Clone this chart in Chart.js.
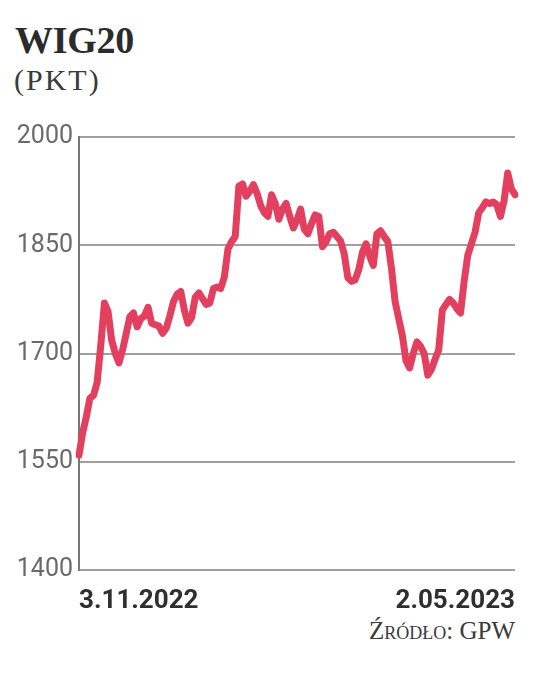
<!DOCTYPE html>
<html>
<head>
<meta charset="utf-8">
<script src="https://cdn.jsdelivr.net/npm/chart.js@4"></script>
<style>
  html, body { margin: 0; padding: 0; background: #fff; }
  body { width: 536px; height: 673px; position: relative; overflow: hidden; }
  #tytul { position: absolute; left: 15px; top: 18px; font: bold 38px "Liberation Serif", serif; color: #2b2b2b; letter-spacing: -0.3px; }
  #jednostka { position: absolute; left: 14px; top: 63px; font: 30px "Liberation Serif", serif; color: #3a3a3a; letter-spacing: 2px; }
  #zrodlo { position: absolute; right: 21px; top: 617px; font: 25px "Liberation Serif", serif; font-variant: small-caps; color: #3a3a3a; }
  #wrap { position: absolute; left: 0; top: 110px; width: 536px; height: 510px; }
</style>
</head>
<body>
<div id="tytul">WIG20</div>
<div id="jednostka">(PKT)</div>
<div id="zrodlo">Źródło: GPW</div>
<div id="wrap"><canvas id="wykres"></canvas></div>
<script>
// Notowania WIG20 (pkt), sesje od 3.11.2022 do 2.05.2023
const wartosci = [
    1559, 1590, 1612, 1638, 1642, 1660, 1712, 1770, 1758, 1718,
    1700, 1687, 1705, 1728, 1751, 1756, 1737, 1748, 1752, 1764,
    1742, 1740, 1738, 1728, 1735, 1752, 1772, 1782, 1786, 1760,
    1742, 1750, 1778, 1784, 1776, 1768, 1770, 1790, 1792, 1790,
    1806, 1845, 1855, 1862, 1932, 1935, 1918, 1925, 1934, 1922,
    1905, 1895, 1890, 1920, 1908, 1886, 1900, 1908, 1890, 1874,
    1885, 1900, 1872, 1866, 1880, 1892, 1890, 1848, 1855, 1866,
    1868, 1862, 1856, 1838, 1805, 1800, 1802, 1816, 1840, 1852,
    1835, 1822, 1866, 1870, 1862, 1855, 1818, 1772, 1748, 1725,
    1690, 1680, 1700, 1716, 1710, 1700, 1670, 1678, 1692, 1705,
    1760, 1768, 1775, 1770, 1762, 1756, 1800, 1836, 1852, 1868,
    1895, 1902, 1910, 1908, 1910, 1906, 1890, 1912, 1950, 1928,
    1920
];
const sesje = wartosci.map((_, i) => i);
const etykietyDat = ["3.11.2022", "2.05.2023"];
const skalaY = { min: 1400, max: 2000, krok: 150 };

const ctx = document.getElementById("wykres").getContext("2d");
new Chart(ctx, {
    type: "line",
    data: {
        labels: sesje,
        datasets: [{
            data: wartosci,
            borderColor: "#e2405e",
            borderWidth: 7,
            borderJoinStyle: "round",
            borderCapStyle: "round",
            pointRadius: 0,
            tension: 0
        }]
    },
    options: {
        responsive: true,
        maintainAspectRatio: false,
        animation: false,
        layout: { padding: { top: 27, right: 21, left: 0, bottom: 0 } },
        plugins: { legend: { display: false }, tooltip: { enabled: false } },
        scales: {
            x: {
                type: "category",
                offset: false,
                grid: { display: false },
                border: { display: false },
                afterBuildTicks: s => { s.ticks = [{ value: 0 }, { value: sesje.length - 1 }]; },
                afterFit: s => { s.height = 50; },
                ticks: {
                    autoSkip: false,
                    maxRotation: 0,
                    align: "inner",
                    padding: 8,
                    color: "#2f2f2f",
                    font: { family: "'Liberation Sans Narrow', Roboto", size: 26, weight: "bold" },
                    callback: (v, i) => etykietyDat[i]
                }
            },
            y: {
                min: skalaY.min,
                max: skalaY.max,
                afterFit: s => { s.width = 79; },
                grid: { color: "#a0a0a0", lineWidth: 2, drawTicks: false },
                border: { color: "#777", width: 2 },
                ticks: {
                    stepSize: skalaY.krok,
                    padding: 6,
                    color: "#6a6a6a",
                    font: { family: "'Liberation Sans Narrow', Roboto", size: 25 },
                    callback: v => String(v)
                }
            }
        }
    }
});
</script>
</body>
</html>
